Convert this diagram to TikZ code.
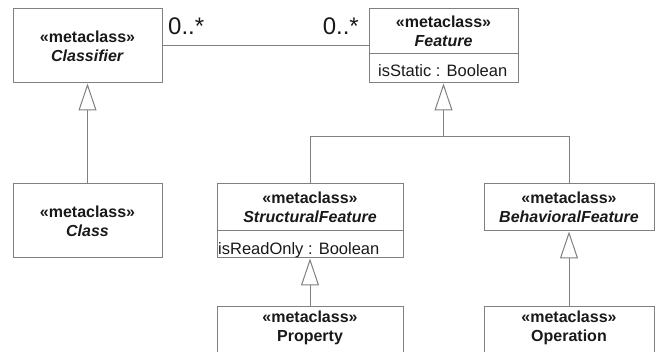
\documentclass[tikz,border=0pt]{standalone}
\usepackage{fontspec}
\setmainfont{Liberation Sans}
\usetikzlibrary{arrows.meta}
\definecolor{lin}{RGB}{128,128,128}
\definecolor{txt}{RGB}{25,25,25}
\begin{document}
\begin{tikzpicture}[x=1pt,y=-1pt,
  umlbox/.style 2 args={draw=lin,line width=1pt,rectangle,inner sep=0pt,
     minimum width=#1,minimum height=#2,fill=none},
  nm/.style={text=txt,align=center,inner sep=0pt,font=\fontsize{16}{19}\selectfont\bfseries},
  attr/.style={text=txt,inner sep=0pt,font=\fontsize{16.5}{19}\selectfont},
  mult/.style={text=txt,inner sep=0pt,font=\fontsize{24}{26}\selectfont},
  conn/.style={draw=lin,line width=1pt},
  gen/.style={conn,-{Triangle[length=27pt,width=18pt,fill=white]}}
]
\useasboundingbox (0,0) rectangle (655,352);
\clip (0,0) rectangle (655,352);

% Classifier
\node[umlbox={149pt}{74pt}] (clsf) at (87.5,46) {};
\node[nm] (clsfT) at (clsf.center) {«metaclass»\\\textit{Classifier}};

% Feature
\node[umlbox={149pt}{74pt}] (feat) at (443.5,46) {};
\node[umlbox={149pt}{45pt}] (featN) at (443.5,31.5) {};
\node[nm] (featT) at (featN.center) {«metaclass»\\\textit{Feature}};
\node[attr,anchor=base west] (featA) at (378,77) {isStatic : Boolean};

% Class
\node[umlbox={149pt}{74pt}] (cls) at (87.5,221) {};
\node[nm] (clsT) at (cls.center) {«metaclass»\\\textit{Class}};

% StructuralFeature
\node[umlbox={186pt}{74pt}] (sf) at (310,221) {};
\node[umlbox={186pt}{47pt}] (sfN) at (310,207.5) {};
\node[nm] (sfT) at (sfN.center) {«metaclass»\\\textit{StructuralFeature}};
\node[attr,anchor=base west] (sfA) at (218,255) {isReadOnly : Boolean};

% BehavioralFeature
\node[umlbox={170pt}{47pt}] (bf) at (569,207.5) {};
\node[nm] (bfT) at (bf.center) {«metaclass»\\\textit{BehavioralFeature}};

% Property
\node[umlbox={186pt}{60pt}] (prop) at (310,336) {};
\node[nm] (propT) at (310,328) {«metaclass»\\Property};

% Operation
\node[umlbox={170pt}{60pt}] (op) at (569,336) {};
\node[nm] (opT) at (569,328) {«metaclass»\\Operation};

% association
\draw[conn] (clsf.east) -- (feat.west);
\node[mult,anchor=base west] (m1) at (168,35) {0..*};
\node[mult,anchor=base east] (m2) at (359,35) {0..*};

% generalizations
\draw[gen] (cls.north) -- (clsf.south);
\coordinate (j) at (443.5,137);
\draw[gen] (sf.north) |- (j) -- (feat.south);
\draw[conn] (bf.north) |- (j);
\draw[gen] (prop.north) -- (sf.south);
\draw[gen] (op.north) -- (bf.south);
\end{tikzpicture}
\end{document}
